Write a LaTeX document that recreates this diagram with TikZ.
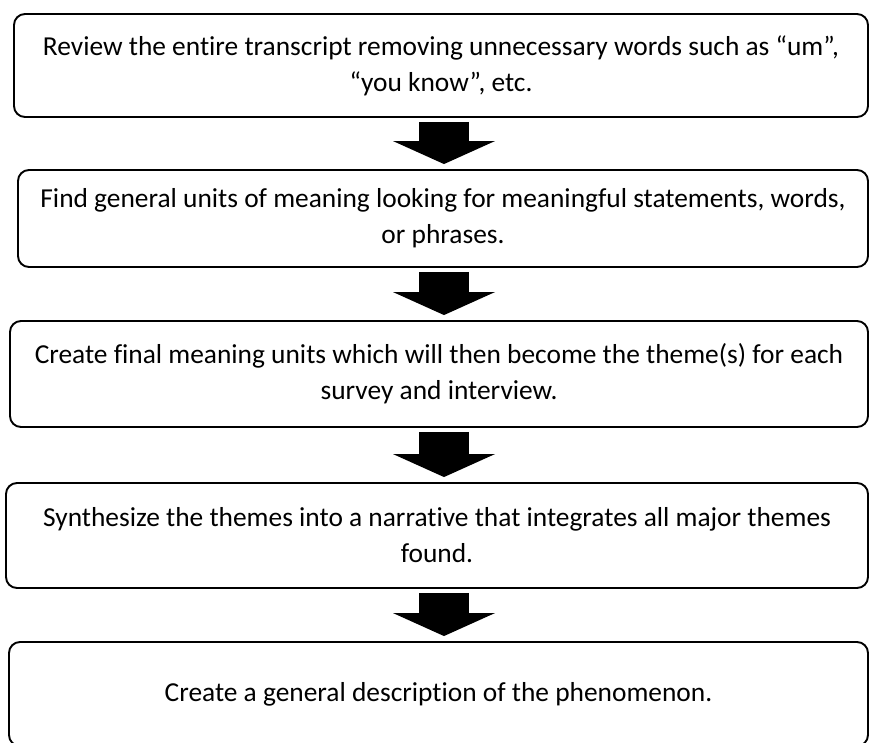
\documentclass[tikz,border=0pt]{standalone}
\usepackage{fontspec}
\setmainfont{Carlito}[Ligatures={TeX,NoCommon}]
\usepackage{tikz}
\usetikzlibrary{arrows.meta}

\begin{document}
\begin{tikzpicture}[x=1pt,y=-1pt,
stepbox/.style={draw,rounded corners=11pt,line width=1.9pt,inner sep=0pt,
	align=center,font=\fontsize{27.4}{36}\selectfont},
bigarrow/.style={line width=50pt,shorten <=4pt,shorten >=5pt,
	-{Triangle[width=102pt,length=23pt,line width=0pt]}}]
\useasboundingbox (0,0) rectangle (870,742);
\clip (0,0) rectangle (870,742);

\coordinate (axis) at (444,0);

\node[stepbox,minimum width=854pt,minimum height=103pt] (review) at (441,65.5)
	{Review the entire transcript removing unnecessary words such as “um”,\\
	“you know”, etc.};
\node[stepbox,minimum width=850pt,minimum height=97pt] (find) at (443,218.5)
	{Find general units of meaning looking for meaningful statements, words,\\
	or phrases.};
\node[stepbox,minimum width=858pt,minimum height=106pt] (create) at (439,374)
	{Create final meaning units which will then become the theme(s) for each\\
	survey and interview.};
\node[stepbox,minimum width=862pt,minimum height=105pt] (synth) at (437,535.5)
	{Synthesize the themes into a narrative that integrates all major themes\\
	found.};
\node[stepbox,minimum width=859pt,minimum height=104pt] (describe) at (438.5,694)
	{Create a general description of the phenomenon.};

\draw[bigarrow] (review.south -| axis) -- (find.north -| axis);
\draw[bigarrow] (find.south -| axis) -- (create.north -| axis);
\draw[bigarrow] (create.south -| axis) -- (synth.north -| axis);
\draw[bigarrow] (synth.south -| axis) -- (describe.north -| axis);
\end{tikzpicture}
\end{document}
